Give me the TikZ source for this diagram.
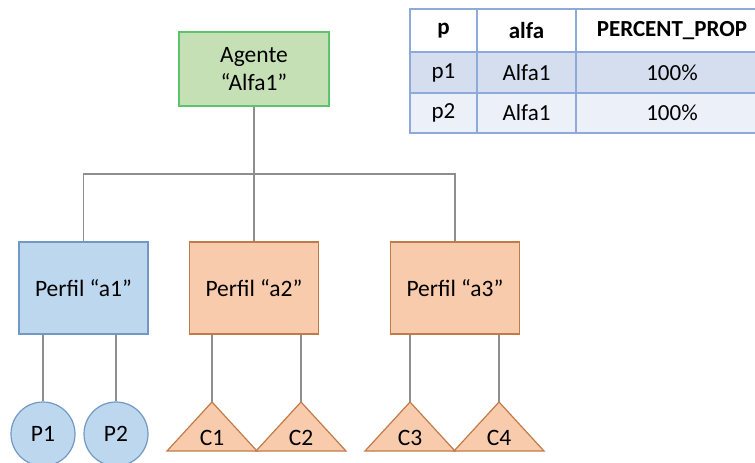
\documentclass[tikz,border=0pt]{standalone}
\usepackage{fontspec}
\setmainfont{Carlito}
\usepackage{tikz}
\usetikzlibrary{positioning, calc}
\definecolor{LeafGreen}{HTML}{C6E0B5}
\definecolor{LeafEdge}{HTML}{5CC46E}
\definecolor{SkyBlue}{HTML}{BDD7EE}
\definecolor{SkyEdge}{HTML}{7199C4}
\definecolor{Peach}{HTML}{F8CBAD}
\definecolor{PeachEdge}{HTML}{C27A48}
\definecolor{LineGray}{HTML}{8E8E8E}
\definecolor{GridBlue}{HTML}{8DAADA}
\definecolor{RowBlue}{HTML}{D5DEEF}
\definecolor{RowPale}{HTML}{ECF0F8}
\newcommand{\boxfont}{\fontsize{23.5}{28}\selectfont}
\newcommand{\tabfont}{\fontsize{23}{27}\selectfont}

\begin{document}
\begin{tikzpicture}[x=1pt, y=-1pt,
    conn/.style={LineGray, line width=1.5pt},
    agentbox/.style={draw=LeafEdge, fill=LeafGreen, line width=1.2pt,
                     minimum width=150pt, minimum height=74pt,
                     align=center, font=\boxfont},
    profblue/.style={draw=SkyEdge, fill=SkyBlue, line width=1.2pt,
                     minimum width=129pt, minimum height=92pt, font=\boxfont},
    profpeach/.style={profblue, draw=PeachEdge, fill=Peach},
    person/.style={circle, draw=SkyEdge, fill=SkyBlue, line width=1.2pt,
                   minimum size=64pt, inner sep=0pt, font=\boxfont},
    tri/.style={draw=PeachEdge, fill=Peach, line width=1.2pt, line join=miter},
    grid/.style={GridBlue, line width=1.5pt},
    cell/.style={font=\tabfont, inner sep=0pt}
]
    \useasboundingbox (0,0) rectangle (755,463);

    % Agent and its three profiles
    \node[agentbox] (agente) at (254,69) {Agente\\“Alfa1”};
    \node[profblue]  (perfA1) at (83.5,288) {Perfil “a1”};
    \node[profpeach] (perfA2) at (254,288)  {Perfil “a2”};
    \node[profpeach] (perfA3) at (455,288)  {Perfil “a3”};

    \coordinate (bus) at (254,174);
    \draw[conn] (agente.south) -- (perfA2.north);
    \draw[conn] (perfA1.north) |- (bus) -| (perfA3.north);

    % Persons under "a1"
    \node[person] (p1) at (43,434)  {P1};
    \node[person] (p2) at (116,434) {P2};
    \foreach \pp in {p1, p2}
        \draw[conn] (\pp.north) -- (\pp.north |- perfA1.south);

    % Triangles under "a2" and "a3"
    \foreach \name/\lbl/\x/\parent in {c1/C1/212/perfA2, c2/C2/301/perfA2,
                                       c3/C3/410/perfA3, c4/C4/499/perfA3} {
        \coordinate (\name top) at (\x,402);
        \draw[tri] (\name top) -- ++(-45,49) -- ++(90,0) -- cycle;
        \node[font=\boxfont] (\name) at (\x,438) {\lbl};
        \draw[conn] (\name top |- \parent.south) -- (\name top);
    }

    % Table
    \fill[RowBlue] (410,52) rectangle (768,93);
    \fill[RowPale] (410,93) rectangle (768,133);
    \draw[grid] (410,9) rectangle (768,133);
    \draw[grid] (410,52) -- (768,52) (410,93) -- (768,93);
    \draw[grid] (477,9) -- (477,133) (576,9) -- (576,133);

    \node[cell, font=\tabfont\bfseries] (hdP)    at (443.5,30.5) {p};
    \node[cell, font=\tabfont\bfseries] (hdAlfa) at (526.5,30.5) {alfa};
    \node[cell, font=\tabfont\bfseries] (hdPct)  at (672,30.5)   {PERCENT\_PROP};
    \foreach \r/\y in {1/72.5, 2/113} {
        \node[cell] (rowP\r)    at (443.5,\y) {p\r};
        \node[cell] (rowAlfa\r) at (526.5,\y) {Alfa1};
        \node[cell] (rowPct\r)  at (672,\y)   {100\%};
    }
\end{tikzpicture}
\end{document}
